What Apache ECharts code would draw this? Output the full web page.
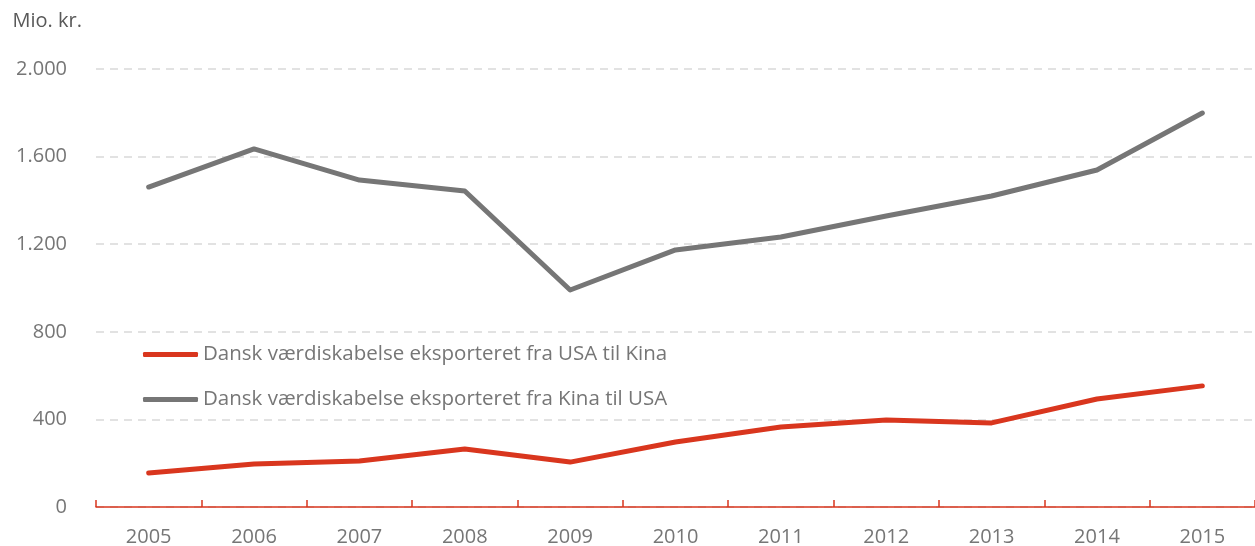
<!DOCTYPE html>
<html>
<head>
<meta charset="utf-8">
<script src="https://cdn.jsdelivr.net/npm/echarts@6/dist/echarts.min.js"></script>
<style>
  html, body { margin: 0; padding: 0; background: #fff; }
  #chart { width: 1255px; height: 546px; }
</style>
</head>
<body>
<div id="chart"></div>
<script>
const years = ['2005', '2006', '2007', '2008', '2009', '2010', '2011', '2012', '2013', '2014', '2015'];
const usaTilKina = [155, 196, 210, 265, 205, 297, 365, 397, 384, 493, 553];
const kinaTilUsa = [1461, 1635, 1493, 1443, 991, 1174, 1233, 1329, 1420, 1539, 1799];
const seriesNames = [
  'Dansk værdiskabelse eksporteret fra USA til Kina',
  'Dansk værdiskabelse eksporteret fra Kina til USA'
];

const font = '"Open Sans", "Noto Sans", sans-serif';
const textGrey = '#767676';

const chart = echarts.init(document.getElementById('chart'));
chart.setOption({
  animation: false,
  textStyle: { fontFamily: font },
  grid: { left: 96, right: 0, top: 69, bottom: 39, outerBoundsMode: 'none', containLabel: false },
  legend: {
    orient: 'vertical',
    left: 138,
    top: 339,
    itemGap: 24,
    itemWidth: 55,
    itemHeight: 5,
    icon: 'roundRect',
    textStyle: { color: textGrey, fontSize: 20.5, fontFamily: font },
    data: seriesNames
  },
  xAxis: {
    type: 'category',
    data: years,
    boundaryGap: true,
    axisLine: { lineStyle: { color: '#d9361e', width: 1.5 } },
    axisTick: { show: true, inside: true, length: 7, lineStyle: { color: '#d9361e', width: 1.5 } },
    axisLabel: { color: textGrey, fontSize: 20, margin: 20 }
  },
  yAxis: {
    type: 'value',
    min: 0,
    max: 2000,
    interval: 400,
    name: 'Mio. kr.',
    nameLocation: 'end',
    nameGap: 38,
    nameTextStyle: { color: '#595959', fontSize: 20, align: 'right', padding: [0, 14, 0, 0] },
    axisLine: { show: false },
    axisTick: { show: false },
    axisLabel: {
      color: textGrey,
      fontSize: 20,
      margin: 29,
      formatter: v => v >= 1000 ? Math.floor(v / 1000) + '.' + String(v % 1000).padStart(3, '0') : String(v)
    },
    splitLine: { lineStyle: { color: '#d9d9d9', type: [8, 6], width: 1.5 } }
  },
  series: [
    {
      name: seriesNames[0],
      type: 'line',
      data: usaTilKina,
      symbol: 'none',
      color: '#d9361e',
      lineStyle: { width: 5, cap: 'round', join: 'round' }
    },
    {
      name: seriesNames[1],
      type: 'line',
      data: kinaTilUsa,
      symbol: 'none',
      color: '#767676',
      lineStyle: { width: 5, cap: 'round', join: 'round' }
    }
  ]
});
</script>
</body>
</html>
